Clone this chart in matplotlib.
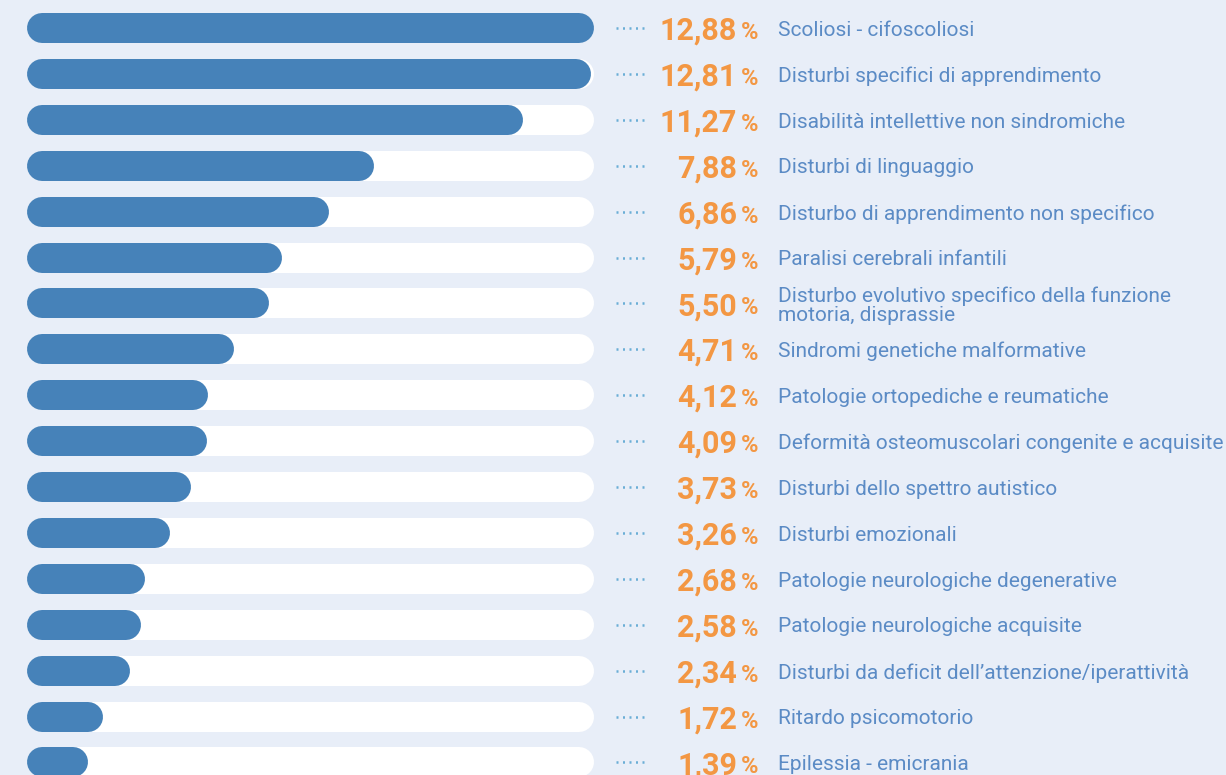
import matplotlib
matplotlib.use("Agg")
import matplotlib.pyplot as plt

categories = [
    "Scoliosi - cifoscoliosi",
    "Disturbi specifici di apprendimento",
    "Disabilità intellettive non sindromiche",
    "Disturbi di linguaggio",
    "Disturbo di apprendimento non specifico",
    "Paralisi cerebrali infantili",
    "Disturbo evolutivo specifico della funzione\nmotoria, disprassie",
    "Sindromi genetiche malformative",
    "Patologie ortopediche e reumatiche",
    "Deformità osteomuscolari congenite e acquisite",
    "Disturbi dello spettro autistico",
    "Disturbi emozionali",
    "Patologie neurologiche degenerative",
    "Patologie neurologiche acquisite",
    "Disturbi da deficit dell’attenzione/iperattività",
    "Ritardo psicomotorio",
    "Epilessia - emicrania",
]
values = [12.88, 12.81, 11.27, 7.88, 6.86, 5.79, 5.50, 4.71, 4.12, 4.09,
          3.73, 3.26, 2.68, 2.58, 2.34, 1.72, 1.39]
value_labels = ["12,88", "12,81", "11,27", "7,88", "6,86", "5,79", "5,50", "4,71",
                "4,12", "4,09", "3,73", "3,26", "2,68", "2,58", "2,34", "1,72", "1,39"]

BG = "#e8eef8"
BLUE = "#4682b9"
ORANGE = "#f39743"
LABEL = "#5b8bc5"
DOTS = "#6aaed6"

W, H = 1226, 775
DPI = 100
fig = plt.figure(figsize=(W / DPI, H / DPI), dpi=DPI, facecolor=BG)
ax = fig.add_axes([0, 0, 1, 1])
ax.set_facecolor(BG)
ax.set_axis_off()

px_per_unit = 44.0
x0_px = 27.0
xmin = -x0_px / px_per_unit
xmax = xmin + W / px_per_unit
row_px = 45.9
y0_px = 28.0
ax.set_xlim(xmin, xmax)
ax.set_ylim((H - y0_px) / row_px, -y0_px / row_px)

bar_h_px = 30
lw_pt = bar_h_px * 72 / DPI
cap = (bar_h_px / 2) / px_per_unit
full = max(values)

def px2x(p):
    return xmin + p / px_per_unit

for i, (cat, v, vl) in enumerate(zip(categories, values, value_labels)):
    ax.plot([cap, full - cap], [i, i], color="white", lw=lw_pt,
            solid_capstyle="round", zorder=1)
    ax.plot([cap, v - cap], [i, i], color=BLUE, lw=lw_pt,
            solid_capstyle="round", zorder=2)
    ax.plot([px2x(616), px2x(648)], [i, i], color=DOTS, lw=1.8,
            linestyle=(0, (0.8, 1.8)), zorder=2)
    ax.text(px2x(737), i + 0.06, vl, ha="right", va="center",
            fontsize=22, fontweight="bold", color=ORANGE, family="Roboto")
    ax.text(px2x(741), i + 0.1, "%", ha="left", va="center",
            fontsize=17, fontweight="bold", color=ORANGE, family="Roboto")
    ax.text(px2x(778), i + 0.05, cat, ha="left", va="center", fontsize=15,
            color=LABEL, family="Roboto", linespacing=0.95)

fig.savefig("out.png", dpi=DPI, facecolor=BG)
